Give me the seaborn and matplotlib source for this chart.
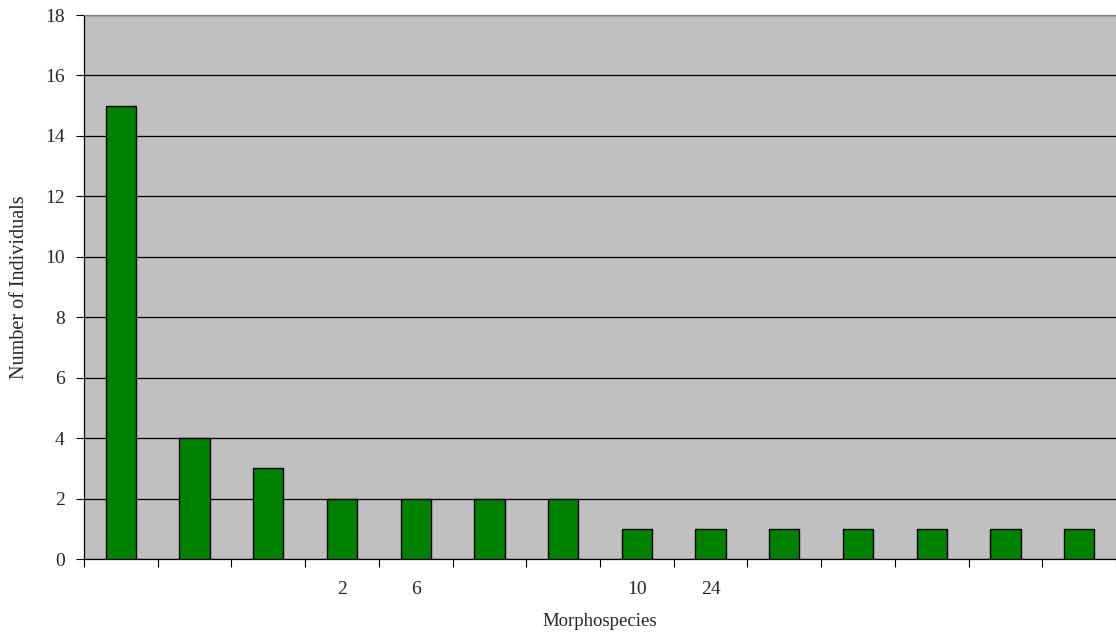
import matplotlib
matplotlib.use("Agg")
import matplotlib.pyplot as plt
import seaborn as sns
import numpy as np
import pandas as pd

species = list(range(1, 15))
counts = [15, 4, 3, 2, 2, 2, 2, 1, 1, 1, 1, 1, 1, 1]
tick_labels = ["", "", "", "2", "6", "", "", "10", "24", "", "", "", "", ""]

sns.set_theme(style="white")
plt.rcParams['font.family'] = ['Liberation Serif', 'DejaVu Serif']

df = pd.DataFrame({"species": species, "count": counts})

fig = plt.figure(figsize=(11.16, 6.41), dpi=100)
ax = fig.add_axes([84/1116, 1 - 559/641, (1116 - 84)/1116, (559 - 15)/641])
ax.set_facecolor("#C0C0C0")

sns.barplot(data=df, x="species", y="count", color="#008000", saturation=1,
            width=0.41, edgecolor="black", linewidth=1, ax=ax, zorder=3)

ax.set_ylim(0, 18)
ax.set_xlim(-0.5, len(species) - 0.5)
ax.set_yticks(np.arange(0, 19, 2))
ax.yaxis.grid(True, color="black", linewidth=0.9, zorder=1)
ax.set_axisbelow(True)

ax.set_xticks(np.arange(len(species)))
ax.set_xticklabels(tick_labels)
ax.set_xticks(np.arange(len(species) + 1) - 0.5, minor=True)
ax.tick_params(axis="x", which="major", length=0, pad=16, labelsize=14)
ax.tick_params(axis="x", which="minor", length=6, width=0.8, color="black", direction="out")
ax.tick_params(axis="y", length=6, width=0.8, color="black", direction="out", labelsize=14, pad=8)
ax.tick_params(axis="both", which="both", bottom=True, left=True)

for s in ["left", "bottom"]:
    ax.spines[s].set_color("black")
    ax.spines[s].set_linewidth(0.9)
ax.spines["top"].set_color("#808080")
ax.spines["top"].set_linewidth(0.9)
ax.spines["right"].set_visible(False)

ax.set_xlabel("Morphospecies", fontsize=13.5, va="center")
ax.set_ylabel("Number of Individuals", fontsize=14.5, va="center")
ax.xaxis.set_label_coords(0.5, (559 - 622) / 544)
ax.yaxis.set_label_coords((20 - 84) / 1032, 0.5)

fig.savefig("out.png", dpi=100)
